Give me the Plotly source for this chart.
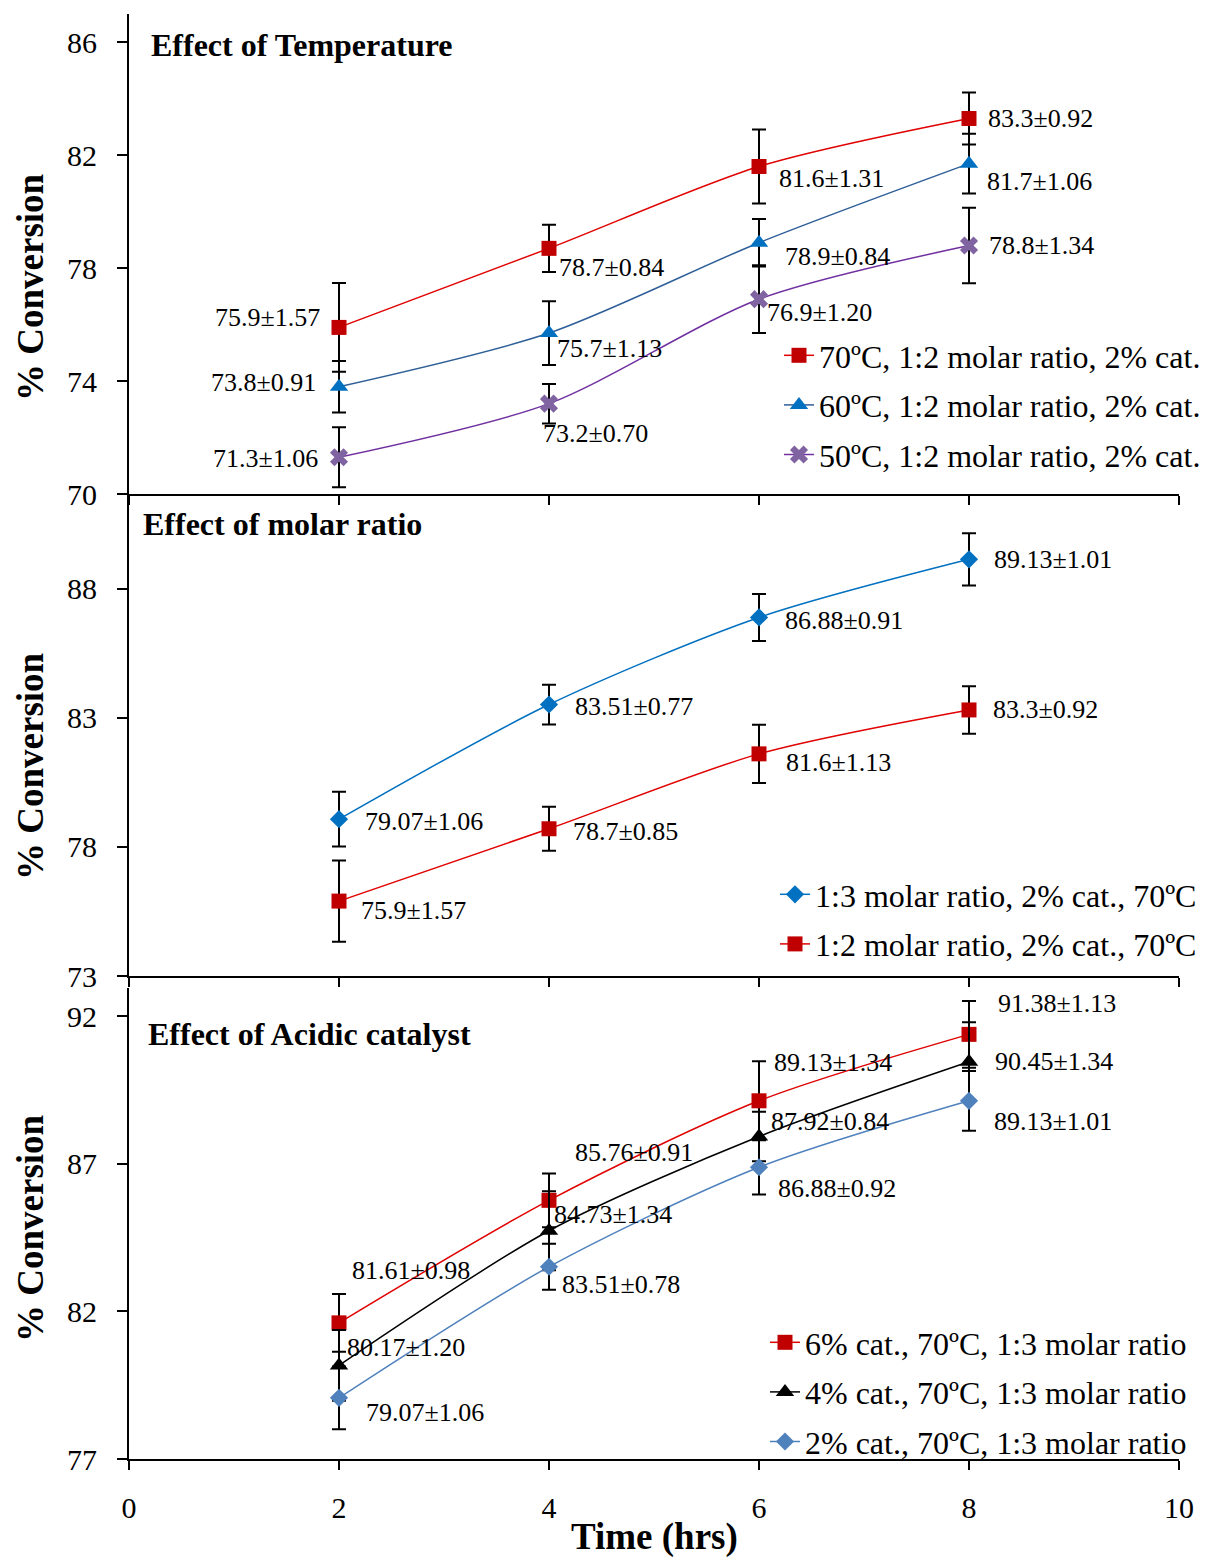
import plotly.graph_objects as go

# ---------------- data ----------------
time_hrs = [2, 4, 6, 8]
x_ticks = [0, 2, 4, 6, 8, 10]

# Panel 1 : Effect of Temperature
temp_names = ["70ºC, 1:2 molar ratio, 2% cat.", "60ºC, 1:2 molar ratio, 2% cat.", "50ºC, 1:2 molar ratio, 2% cat."]
t70 = [75.9, 78.7, 81.6, 83.3]
t70_err = [1.57, 0.84, 1.31, 0.92]
t60 = [73.8, 75.7, 78.9, 81.7]
t60_err = [0.91, 1.13, 0.84, 1.06]
t50 = [71.3, 73.2, 76.9, 78.8]
t50_err = [1.06, 0.70, 1.20, 1.34]

# Panel 2 : Effect of molar ratio
molar_names = ["1:3 molar ratio, 2% cat., 70ºC", "1:2 molar ratio, 2% cat., 70ºC"]
m13 = [79.07, 83.51, 86.88, 89.13]
m13_err = [1.06, 0.77, 0.91, 1.01]
m12 = [75.9, 78.7, 81.6, 83.3]
m12_err = [1.57, 0.85, 1.13, 0.92]

# Panel 3 : Effect of Acidic catalyst
cat_names = ["6% cat., 70ºC, 1:3 molar ratio", "4% cat., 70ºC, 1:3 molar ratio", "2% cat., 70ºC, 1:3 molar ratio"]
c6 = [81.61, 85.76, 89.13, 91.38]
c6_err = [0.98, 0.91, 1.34, 1.13]
c4 = [80.17, 84.73, 87.92, 90.45]
c4_err = [1.20, 1.34, 0.84, 1.34]
c2 = [79.07, 83.51, 86.88, 89.13]
c2_err = [1.06, 0.78, 0.92, 1.01]

y1_ticks = [70, 74, 78, 82, 86]
y2_ticks = [73, 78, 83, 88]
y3_ticks = [77, 82, 87, 92]

# --------------- styling ---------------
FONT = "Times New Roman, Liberation Serif, serif"
RED_M, RED_L = "#C00000", "#E00000"

# label offsets (xshift, yshift, anchor) per point
lab_t70 = [(-17, 10, "right"), (8, -19, "left"), (18, -12, "left"), (17, 0, "left")]
lab_t60 = [(-21, 4, "right"), (6, -15, "left"), (24, -14, "left"), (16, -18, "left")]
lab_t50 = [(-19, -1, "right"), (-8, -30, "left"), (6, -13, "left"), (18, 0, "left")]
lab_m13 = [(24, -2, "left"), (24, -2, "left"), (24, -3, "left"), (23, 0, "left")]
lab_m12 = [(20, -9, "left"), (22, -3, "left"), (25, -9, "left"), (22, 0, "left")]
lab_c6 = [(11, 52, "left"), (24, 48, "left"), (13, 38, "left"), (27, 31, "left")]
lab_c4 = [(6, 18, "left"), (3, 16, "left"), (10, 15, "left"), (24, 0, "left")]
lab_c2 = [(25, -15, "left"), (11, -18, "left"), (17, -21, "left"), (23, -21, "left")]

fig = go.Figure()
annotations = []


def add_series(name, y, err, xa, ya, legend, mcolor, lcolor, symbol, msize, labels):
    fig.add_trace(go.Scatter(
        x=time_hrs, y=y, name=name, mode="lines+markers",
        xaxis=xa, yaxis=ya, legend=legend, legendgroup=name,
        line=dict(color=lcolor, width=1.5, shape="spline", smoothing=0.8),
        marker=dict(color=mcolor, symbol=symbol, size=msize, line=dict(width=0)),
        error_y=dict(type="data", array=err, visible=True, color="black", thickness=2, width=7),
    ))
    for xv, yv, ev, (dx, dy, anc) in zip(time_hrs, y, err, labels):
        annotations.append(dict(
            x=xv, y=yv, xref=xa, yref=ya, text=f"{yv}±{ev:.2f}", showarrow=False,
            xanchor=anc, yanchor="middle", xshift=dx, yshift=dy,
            font=dict(family=FONT, size=26, color="black")))


add_series(temp_names[0], t70, t70_err, "x", "y", "legend", RED_M, RED_L, "square", 15, lab_t70)
add_series(temp_names[1], t60, t60_err, "x", "y", "legend", "#0070C0", "#2F5F98", "triangle-up", 16, lab_t60)
add_series(temp_names[2], t50, t50_err, "x", "y", "legend", "#8064A2", "#7030A0", "x", 16, lab_t50)

add_series(molar_names[0], m13, m13_err, "x2", "y2", "legend2", "#0070C0", "#0070C0", "diamond", 14, lab_m13)
add_series(molar_names[1], m12, m12_err, "x2", "y2", "legend2", RED_M, RED_L, "square", 15, lab_m12)

add_series(cat_names[0], c6, c6_err, "x3", "y3", "legend3", RED_M, RED_L, "square", 15, lab_c6)
add_series(cat_names[1], c4, c4_err, "x3", "y3", "legend3", "black", "black", "triangle-up", 16, lab_c4)
add_series(cat_names[2], c2, c2_err, "x3", "y3", "legend3", "#4F81BD", "#4F81BD", "diamond", 14, lab_c2)

# plot area: left 129, right 1179, top 14, bottom 1459  (height 1445)
H = 1445.0
def py(pix):
    return (1459 - pix) / H
def px(pix):
    return (pix - 129) / 1050.0

axis_common = dict(showline=True, linecolor="black", linewidth=2, ticks="outside",
                   tickcolor="black", tickwidth=2, showgrid=False, zeroline=False,
                   tickfont=dict(family=FONT, size=30, color="black"))

xcommon = dict(axis_common, range=[0, 10], tickvals=x_ticks, ticklen=9)
fig.update_layout(
    xaxis=dict(xcommon, anchor="y", showticklabels=False),
    xaxis2=dict(xcommon, anchor="y2", showticklabels=False),
    xaxis3=dict(xcommon, anchor="y3", showticklabels=True, ticklabelstandoff=12),
    yaxis=dict(axis_common, domain=[py(494), 1.0], range=[70, 87], tickvals=y1_ticks,
               ticklen=10, ticklabelstandoff=14, anchor="x"),
    yaxis2=dict(axis_common, domain=[py(976), py(494)], range=[73, 91.66], tickvals=y2_ticks,
                ticklen=10, ticklabelstandoff=14, anchor="x2"),
    yaxis3=dict(axis_common, domain=[0, py(988)], range=[77, 92.95], tickvals=y3_ticks,
                ticklen=10, ticklabelstandoff=14, anchor="x3"),
)

legend_common = dict(font=dict(family=FONT, size=32, color="black"), bgcolor="rgba(0,0,0,0)",
                     xanchor="right", yanchor="top", tracegroupgap=5)
fig.update_layout(
    legend=dict(legend_common, x=px(1206), y=py(328)),
    legend2=dict(legend_common, x=px(1202), y=py(867)),
    legend3=dict(legend_common, x=px(1192), y=py(1315)),
)

# panel titles
for txt, xx, yy in [("Effect of Temperature", 149, 45), ("Effect of molar ratio", 141, 524),
                    ("Effect of Acidic catalyst", 146, 1034)]:
    annotations.append(dict(text=f"<b>{txt}</b>", xref="paper", yref="paper", x=px(xx), y=py(yy),
                            xanchor="left", yanchor="middle", showarrow=False,
                            font=dict(family=FONT, size=32, color="black")))
# y titles
for yy in [287, 766, 1228]:
    annotations.append(dict(text="<b>% Conversion</b>", xref="paper", yref="paper", x=px(30), y=py(yy),
                            xanchor="center", yanchor="middle", textangle=-90, showarrow=False,
                            font=dict(family=FONT, size=37, color="black")))
# x title
annotations.append(dict(text="<b>Time (hrs)</b>", xref="paper", yref="paper", x=px(654), y=py(1537),
                        xanchor="center", yanchor="middle", showarrow=False,
                        font=dict(family=FONT, size=37, color="black")))

fig.update_layout(
    annotations=annotations,
    width=1205, height=1558,
    margin=dict(l=129, r=26, t=14, b=99, autoexpand=False),
    plot_bgcolor="white", paper_bgcolor="white",
    showlegend=True,
)

fig.write_html("out.html")
